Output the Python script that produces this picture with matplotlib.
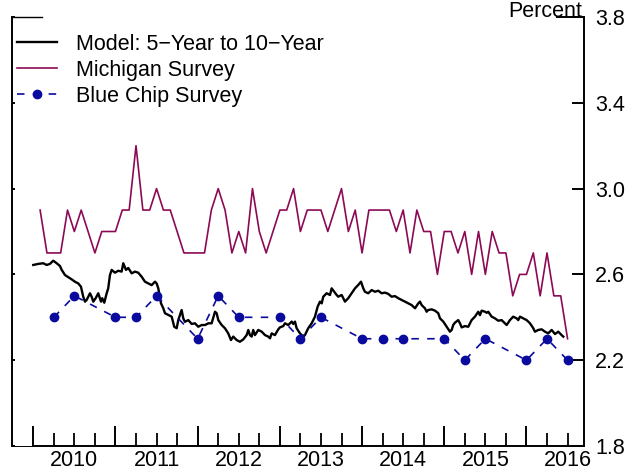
import numpy as np
import matplotlib
matplotlib.use("Agg")
import matplotlib.pyplot as plt

plt.rcParams['font.family'] = ['Liberation Sans', 'DejaVu Sans']

# Model-implied 5-year-to-10-year forward inflation expectations (decimal years, percent)
model_t = [
    2010.000, 2010.061, 2010.122, 2010.163, 2010.203, 2010.243, 2010.285, 2010.325,
    2010.346, 2010.386, 2010.418, 2010.467, 2010.507, 2010.547, 2010.580, 2010.608,
    2010.629, 2010.650, 2010.690, 2010.710, 2010.730, 2010.759, 2010.791, 2010.824,
    2010.839, 2010.864, 2010.893, 2010.912, 2010.933, 2010.954, 2010.994, 2011.034,
    2011.075, 2011.095, 2011.128, 2011.156, 2011.197, 2011.237, 2011.277, 2011.319,
    2011.359, 2011.399, 2011.440, 2011.481, 2011.501, 2011.521, 2011.554, 2011.582,
    2011.602, 2011.642, 2011.684, 2011.715, 2011.745, 2011.764, 2011.785, 2011.805,
    2011.825, 2011.845, 2011.886, 2011.927, 2011.967, 2012.007, 2012.049, 2012.090,
    2012.129, 2012.170, 2012.211, 2012.231, 2012.251, 2012.292, 2012.332, 2012.372,
    2012.405, 2012.433, 2012.474, 2012.514, 2012.555, 2012.596, 2012.616, 2012.636,
    2012.657, 2012.676, 2012.697, 2012.737, 2012.779, 2012.819, 2012.859, 2012.880,
    2012.900, 2012.940, 2012.981, 2013.001, 2013.041, 2013.062, 2013.102, 2013.144,
    2013.163, 2013.184, 2013.204, 2013.245, 2013.285, 2013.305, 2013.345, 2013.387,
    2013.427, 2013.460, 2013.488, 2013.509, 2013.528, 2013.569, 2013.610, 2013.630,
    2013.662, 2013.691, 2013.710, 2013.752, 2013.792, 2013.832, 2013.873, 2013.914,
    2013.954, 2013.987, 2014.015, 2014.035, 2014.075, 2014.117, 2014.157, 2014.197,
    2014.238, 2014.279, 2014.319, 2014.360, 2014.400, 2014.440, 2014.482, 2014.522,
    2014.562, 2014.603, 2014.644, 2014.684, 2014.704, 2014.725, 2014.765, 2014.786,
    2014.805, 2014.847, 2014.887, 2014.927, 2014.948, 2014.988, 2015.029, 2015.069,
    2015.090, 2015.109, 2015.130, 2015.170, 2015.191, 2015.212, 2015.252, 2015.292,
    2015.333, 2015.373, 2015.414, 2015.434, 2015.455, 2015.495, 2015.516, 2015.535,
    2015.577, 2015.617, 2015.657, 2015.698, 2015.738, 2015.759, 2015.799, 2015.839,
    2015.881, 2015.900, 2015.921, 2015.961, 2016.002, 2016.043, 2016.083, 2016.103,
    2016.144, 2016.185, 2016.225, 2016.265, 2016.307, 2016.347, 2016.387, 2016.428,
    2016.448,
]
model_v = [
    2.644, 2.649, 2.652, 2.644, 2.649, 2.664, 2.652, 2.639,
    2.621, 2.597, 2.589, 2.577, 2.566, 2.558, 2.543, 2.496,
    2.473, 2.481, 2.512, 2.496, 2.473, 2.489, 2.512, 2.473,
    2.489, 2.468, 2.512, 2.535, 2.597, 2.621, 2.608, 2.617,
    2.613, 2.652, 2.621, 2.630, 2.605, 2.613, 2.608, 2.589,
    2.566, 2.558, 2.550, 2.566, 2.558, 2.535, 2.465, 2.442,
    2.419, 2.411, 2.403, 2.356, 2.349, 2.387, 2.411, 2.434,
    2.395, 2.379, 2.387, 2.369, 2.372, 2.356, 2.364, 2.364,
    2.372, 2.372, 2.426, 2.419, 2.387, 2.364, 2.349, 2.325,
    2.294, 2.310, 2.294, 2.286, 2.297, 2.317, 2.341, 2.317,
    2.310, 2.341, 2.317, 2.341, 2.333, 2.317, 2.310, 2.302,
    2.325, 2.317, 2.344, 2.353, 2.359, 2.372, 2.364, 2.380,
    2.369, 2.380, 2.349, 2.325, 2.310, 2.317, 2.349, 2.372,
    2.403, 2.450, 2.473, 2.465, 2.496, 2.512, 2.504, 2.535,
    2.519, 2.504, 2.496, 2.504, 2.473, 2.489, 2.512, 2.535,
    2.551, 2.566, 2.535, 2.519, 2.512, 2.527, 2.519, 2.524,
    2.512, 2.515, 2.509, 2.496, 2.499, 2.489, 2.481, 2.473,
    2.465, 2.457, 2.442, 2.465, 2.473, 2.457, 2.442, 2.426,
    2.434, 2.437, 2.431, 2.419, 2.395, 2.380, 2.356, 2.333,
    2.341, 2.364, 2.375, 2.387, 2.372, 2.353, 2.359, 2.356,
    2.387, 2.403, 2.426, 2.410, 2.431, 2.426, 2.421, 2.426,
    2.403, 2.395, 2.384, 2.387, 2.372, 2.364, 2.387, 2.403,
    2.395, 2.387, 2.403, 2.395, 2.387, 2.372, 2.349, 2.333,
    2.341, 2.344, 2.333, 2.325, 2.341, 2.322, 2.333, 2.317,
    2.310,
]

# University of Michigan survey, monthly from Feb 2010
michigan_v = [
    2.9, 2.7, 2.7, 2.7, 2.9, 2.8, 2.9, 2.8, 2.7, 2.8, 2.8, 2.8,
    2.9, 2.9, 3.2, 2.9, 2.9, 3.0, 2.9, 2.9, 2.8, 2.7, 2.7, 2.7,
    2.7, 2.9, 3.0, 2.9, 2.7, 2.8, 2.7, 3.0, 2.8, 2.7, 2.8, 2.9,
    2.9, 3.0, 2.8, 2.9, 2.9, 2.9, 2.8, 2.9, 3.0, 2.8, 2.9, 2.7,
    2.9, 2.9, 2.9, 2.9, 2.8, 2.9, 2.7, 2.9, 2.8, 2.8, 2.6, 2.8,
    2.8, 2.7, 2.8, 2.6, 2.8, 2.6, 2.8, 2.7, 2.7, 2.5, 2.6, 2.6,
    2.7, 2.5, 2.7, 2.5, 2.5, 2.3,
]
michigan_t = 2010 + (np.arange(len(michigan_v)) + 1) / 12

# Blue Chip survey
bluechip_t = [
    2010.25, 2010.50, 2011.00, 2011.25, 2011.50, 2012.00, 2012.25, 2012.50,
    2013.00, 2013.25, 2013.50, 2014.00, 2014.25, 2014.50, 2015.00, 2015.25,
    2015.50, 2016.00, 2016.25, 2016.50,
]
bluechip_v = [
    2.4, 2.5, 2.4, 2.4, 2.5, 2.3, 2.5, 2.4,
    2.4, 2.3, 2.4, 2.3, 2.3, 2.3, 2.3, 2.2,
    2.3, 2.2, 2.3, 2.2,
]

years = [2010, 2011, 2012, 2013, 2014, 2015, 2016]
y_ticks = [1.8, 2.2, 2.6, 3.0, 3.4, 3.8]
x_min, x_max = 2009.745, 2016.70

MAROON = '#8c0a55'
NAVY = '#0a0a9e'
FS = 15.5
W, H = 634, 470

fig = plt.figure(figsize=(W / 100, H / 100), dpi=100)
L, R, B, T = 12.3, 584, 446, 17
ax = fig.add_axes([L / W, 1 - B / H, (R - L) / W, (B - T) / H])
ax.set_xlim(x_min, x_max)
ax.set_ylim(1.8, 3.8)

l_mich, = ax.plot(michigan_t, michigan_v, color=MAROON, lw=1.2, label='Michigan Survey')
l_model, = ax.plot(model_t, model_v, color='black', lw=1.7,
                   label='Model: 5\u2212Year to 10\u2212Year')
l_bc, = ax.plot(bluechip_t, bluechip_v, color=NAVY, lw=1.2, dashes=(4.5, 5),
                marker='o', ms=6, label='Blue Chip Survey')

# Frame: no top spine, bottom spine starts at the first year tick
ax.spines['top'].set_visible(False)
for s in ('left', 'right', 'bottom'):
    ax.spines[s].set_linewidth(1.4)
ax.spines['bottom'].set_bounds(2010, x_max)
ax.plot([x_min, 2010], [1.8, 1.8], color='black', lw=0.7, clip_on=False)
ax.plot([0, 0.0514], [1, 1], transform=ax.transAxes, color='black', lw=1.0, clip_on=False)
ax.plot([0.953, 1], [1, 1], transform=ax.transAxes, color='black', lw=1.4, clip_on=False)

# y axis: labels on the right, inward ticks
ax.set_yticks(y_ticks, labels=[f'{v:.1f}' for v in y_ticks])
ax.yaxis.set_ticks_position('both')
ax.tick_params(axis='y', which='major', direction='in', length=8.6, width=1.4,
               labelleft=False, labelright=True, labelsize=FS, pad=8)
for t in ax.yaxis.get_major_ticks():
    t.tick1line.set_markersize(1.8)

# x axis: year ticks, quarterly minor ticks, year labels mid-year
quarters = [y + q for y in years for q in (0.25, 0.5, 0.75) if y + q < x_max]
ax.set_xticks(years, labels=[''] * len(years))
ax.set_xticks(quarters, minor=True,
              labels=[str(int(q)) if abs(q % 1 - 0.5) < 1e-9 else '' for q in quarters])
ax.tick_params(axis='x', which='major', direction='in', length=14.4, width=1.4,
               bottom=True, top=False)
ax.tick_params(axis='x', which='minor', direction='in', length=9.4, width=1.3,
               bottom=True, top=False, labelsize=FS, pad=3)

fig.text(545.5 / W, 1 - 1 / H, 'Percent', ha='center', va='top', fontsize=FS)

ax.legend(handles=[l_model, l_mich, l_bc], loc='upper left',
          bbox_to_anchor=(16.7 / W, 1 - 33.5 / H), bbox_transform=fig.transFigure,
          frameon=False, fontsize=FS, handlelength=1.89, handletextpad=0.87,
          labelspacing=0.24, borderpad=0, borderaxespad=0)

fig.savefig('out.png', dpi=100)
